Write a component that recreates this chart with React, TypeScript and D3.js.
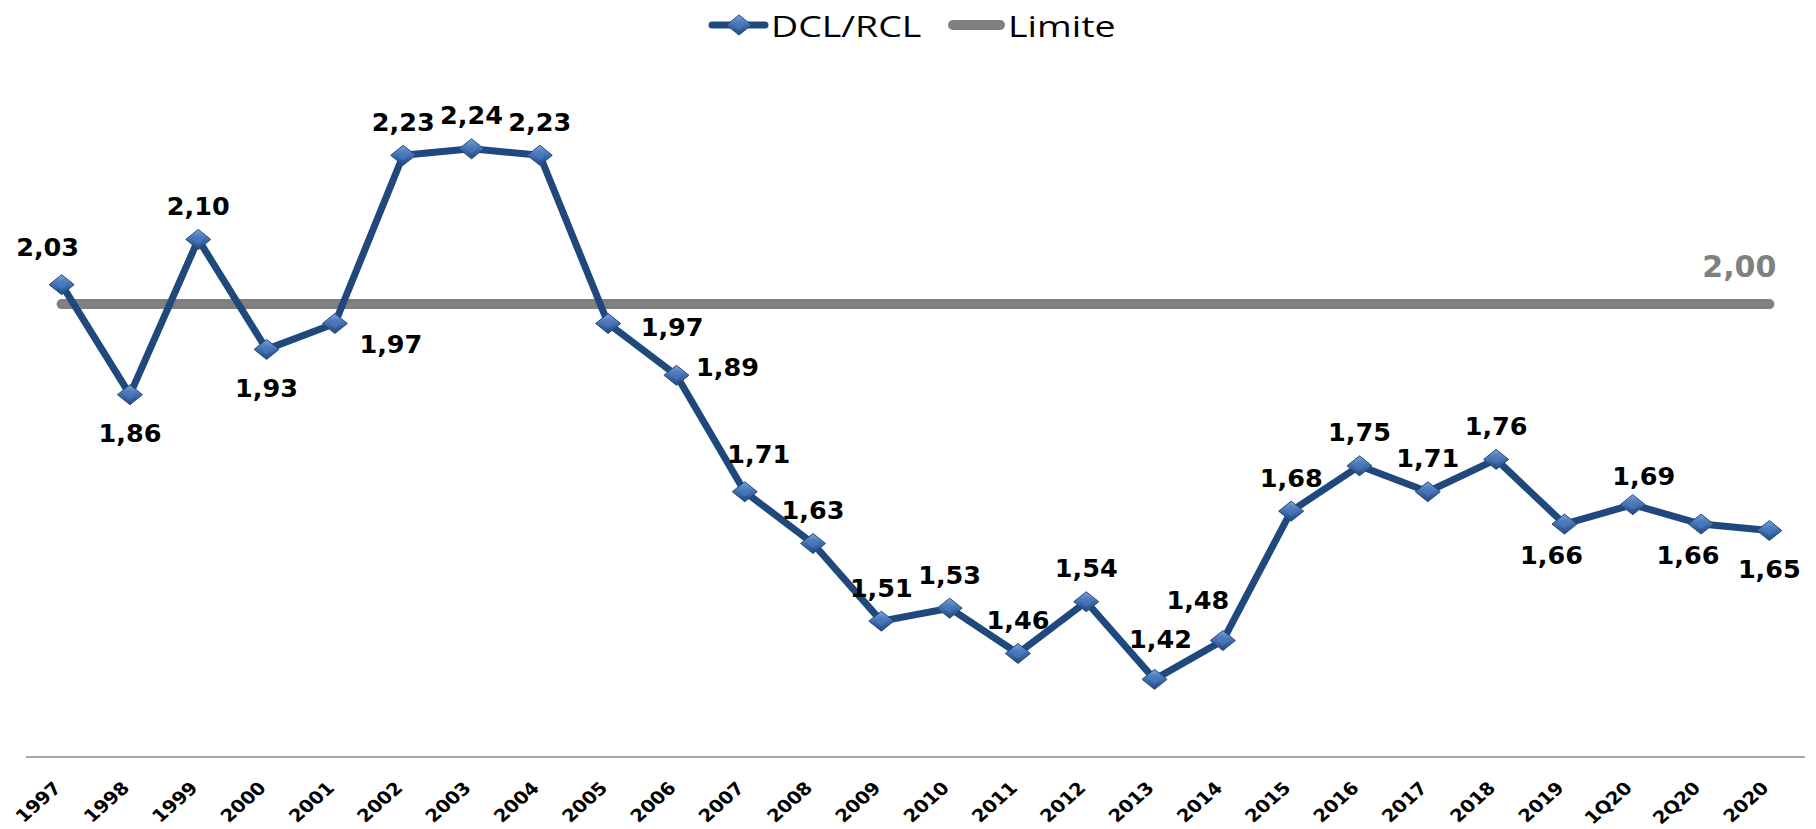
import React from "react";
import * as d3 from "d3";

const categories = [
  "1997", "1998", "1999", "2000", "2001", "2002", "2003", "2004", "2005", "2006",
  "2007", "2008", "2009", "2010", "2011", "2012", "2013", "2014", "2015", "2016",
  "2017", "2018", "2019", "1Q20", "2Q20", "2020",
];
const dclRcl = [
  2.03, 1.86, 2.1, 1.93, 1.97, 2.23, 2.24, 2.23, 1.97, 1.89,
  1.71, 1.63, 1.51, 1.53, 1.46, 1.54, 1.42, 1.48, 1.68, 1.75,
  1.71, 1.76, 1.66, 1.69, 1.66, 1.65,
];
const limite = 2.0;
const labelPlacement = [
  "aboveLeft", "below", "above", "below", "rightBelow", "above", "above", "above", "rightLow", "right",
  "aboveRight", "above", "above", "above", "above", "above", "aboveHigh", "aboveLeftFar", "above", "above",
  "above", "above", "belowLeft", "aboveRightNear", "belowLeft", "below",
];
const seriesNames = ["DCL/RCL", "Limite"];

const W = 1816;
const H = 829;
const fmt = (v: number) => v.toFixed(2).replace(".", ",");

// label centre offsets from the point, per placement code
const placementOffset: Record<string, [number, number]> = {
  above: [0, -34],
  aboveHigh: [6, -41],
  below: [0, 38],
  aboveLeft: [-14, -38],
  aboveLeftFar: [-25, -41],
  aboveRight: [14, -38],
  aboveRightNear: [11, -29],
  belowLeft: [-13, 30],
  right: [51, -9],
  rightLow: [64, 3],
  rightBelow: [56, 20],
};

export default function App() {
  const x = d3.scalePoint<string>().domain(categories).range([27.5, 1803.5]).padding(0.5);
  const y = d3.scaleLinear().domain([1.3, 2.3]).range([757, 110]);
  const line = d3
    .line<number>()
    .x((_, i) => x(categories[i]) as number)
    .y((d) => y(d));
  const xFirst = x(categories[0]) as number;
  const xLast = x(categories[categories.length - 1]) as number;
  const labelFont = "'DejaVu Sans', Verdana, sans-serif";
  const legendFont = "'Open Sans', 'Noto Sans', sans-serif";
  const blue = "#1F497D";
  const gray = "#808080";

  const diamond = (cx: number, cy: number, k: number) => (
    <g key={k}>
      <polygon
        points={`${cx - 12.5},${cy} ${cx},${cy - 10} ${cx + 12.5},${cy} ${cx},${cy + 10}`}
        fill="url(#dgrad)"
        stroke="#24497a"
        strokeWidth={1}
      />
      <polygon
        points={`${cx - 6},${cy} ${cx},${cy - 5} ${cx + 6},${cy} ${cx},${cy + 5}`}
        fill="#4f7cbe"
        opacity={0.6}
      />
    </g>
  );

  return (
    <div style={{ position: "absolute", left: 0, top: 0, width: W, height: H, background: "#fff" }}>
      <svg width={W} height={H} viewBox={`0 0 ${W} ${H}`}>
        <defs>
          <linearGradient id="dgrad" x1="0" y1="0" x2="0" y2="1">
            <stop offset="0" stopColor="#7aa3db" />
            <stop offset="0.5" stopColor="#3f6eb0" />
            <stop offset="1" stopColor="#24497f" />
          </linearGradient>
        </defs>
        <rect width={W} height={H} fill="#fff" />

        {/* x axis line */}
        <line x1={26} x2={1805} y1={757} y2={757} stroke="#a6a6a6" strokeWidth={2} />

        {/* x axis labels */}
        {categories.map((c) => {
          const cx = x(c) as number;
          return (
            <text
              key={c}
              transform={`translate(${cx - 9.5},${780}) scale(1.12,1) rotate(-45)`}
              textAnchor="end"
              dominantBaseline="hanging"
              fontFamily={labelFont}
              fontWeight="bold"
              fontSize={17.5}
              fill="#000"
            >
              {c}
            </text>
          );
        })}

        {/* limit line */}
        <line
          x1={xFirst}
          x2={xLast}
          y1={y(limite)}
          y2={y(limite)}
          stroke={gray}
          strokeWidth={10}
          strokeLinecap="round"
        />
        <text
          x={xLast + 7}
          y={y(limite) - 27}
          textAnchor="end"
          fontFamily={labelFont}
          fontWeight="bold"
          fontSize={30}
          fill={gray}
        >
          {fmt(limite)}
        </text>

        {/* main series */}
        <path d={line(dclRcl) || ""} fill="none" stroke={blue} strokeWidth={7} strokeLinejoin="round" />
        {dclRcl.map((v, i) => diamond(x(categories[i]) as number, y(v), i))}
        {dclRcl.map((v, i) => {
          const [dx, dy] = placementOffset[labelPlacement[i]];
          return (
            <text
              key={"l" + i}
              x={(x(categories[i]) as number) + dx}
              y={y(v) + dy + 9.5}
              textAnchor="middle"
              fontFamily={labelFont}
              fontWeight="bold"
              fontSize={25.5}
              fill="#000"
            >
              {fmt(v)}
            </text>
          );
        })}

        {/* legend */}
        <g>
          <line x1={712} x2={765} y1={25} y2={25} stroke={blue} strokeWidth={7} strokeLinecap="round" />
          {diamond(739, 25, 999)}
          <text
            transform="translate(771,37) scale(1.25,1)"
            fontFamily={legendFont}
            fontSize={30}
            fill="#000"
          >
            {seriesNames[0]}
          </text>
          <line x1={953} x2={1000} y1={25} y2={25} stroke={gray} strokeWidth={10} strokeLinecap="round" />
          <text
            transform="translate(1008,37) scale(1.25,1)"
            fontFamily={legendFont}
            fontSize={30}
            fill="#000"
          >
            {seriesNames[1]}
          </text>
        </g>
      </svg>
    </div>
  );
}
